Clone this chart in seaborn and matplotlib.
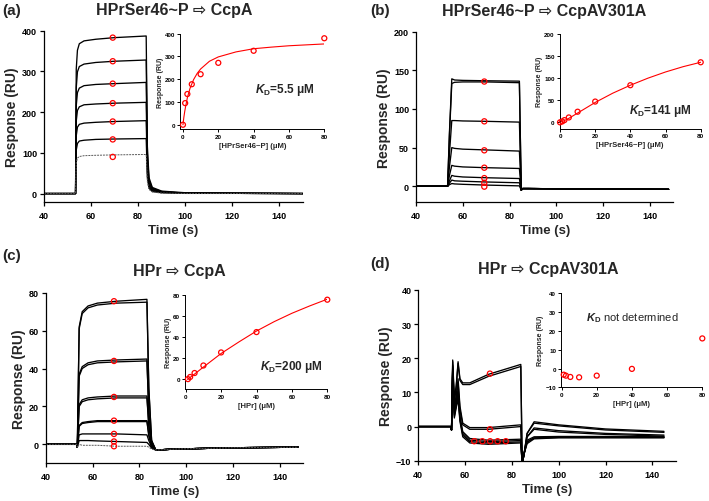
import matplotlib
matplotlib.use('Agg')
import matplotlib.pyplot as plt
import seaborn as sns

sns.set_style('ticks')
plt.rcParams['font.family'] = ['Liberation Sans', 'DejaVu Sans']
plt.rcParams['font.weight'] = 'bold'
plt.rcParams['mathtext.fontset'] = 'custom'
plt.rcParams['mathtext.it'] = 'Liberation Sans:bold:italic'
plt.rcParams['mathtext.rm'] = 'Liberation Sans:bold'
plt.rcParams['mathtext.bf'] = 'Liberation Sans:bold'

# ---- (a) HPrSer46~P -> CcpA ----
a_time = [40, 53.4, 53.7, 54.2, 55, 57, 62, 70, 83.4, 83.9, 84.6, 86, 90, 100, 150]
a_traces = [
    [0, 0, 306, 352, 368, 375, 379, 383, 387, 116, 39, 15, 6, 2, 0],
    [0, 0, 260, 299, 312, 318, 322, 325, 328, 98, 33, 13, 5, 1, 0],
    [0, 0, 216, 248, 259, 265, 268, 270, 273, 81, 27, 11, 4, 1, 0],
    [0, 0, 178, 204, 213, 218, 220, 222, 224, 67, 22, 9, 3, 1, 0],
    [0, 0, 142, 163, 170, 173, 175, 177, 179, 53, 18, 7, 3, 1, 0],
    [0, 0, 107, 123, 129, 131, 133, 134, 135, 40, 13, 5, 2, 1, 0],
    [0, 0, 76, 87, 91, 93, 94, 95, 96, 29, 10, 4, 1, 0, 0],
]
a_mark_t = [69.2] * 7
a_mark_r = [383, 325, 270, 222, 177, 133, 90]
a_conc = [0, 1.25, 2.5, 5, 10, 20, 40, 80]
a_resp = [0, 95, 135, 178, 222, 272, 325, 380]
a_fit_x = [0, 0.5, 1, 1.5, 2.5, 4, 6, 8, 10, 15, 20, 30, 40, 50, 60, 70, 80]
a_fit_y = [0, 32, 58, 80, 119, 160, 198, 225, 245, 279, 298, 320, 334, 341, 347, 351, 355]

# ---- (b) HPrSer46~P -> CcpAV301A ----
b_time = [40, 53.5, 54.3, 55.3, 56.5, 60, 70, 84.2, 85.0, 85.6, 88, 110, 148]
b_traces = [
    [0, 0, 70, 139, 137.5, 137, 136.5, 136, -5, -3, -3, -3.5, -4],
    [0, 0, 66, 133, 134.5, 135, 135, 134, -5, -3, -3, -3.5, -4],
    [0, 0, 42, 85, 85, 84.5, 84, 83, -5, -3, -3, -3.5, -4],
    [0, 0, 25, 50, 49, 48, 47, 45.5, -5, -3, -3, -3.5, -4],
    [0, 0, 14, 27, 26, 25, 24, 23, -5, -3, -3, -3.5, -4],
    [0, 0, 7, 14, 13, 12, 11, 10, -5, -3, -3, -3.5, -4],
    [0, 0, 4, 8, 7, 6.5, 5.5, 4.5, -5, -3, -3, -3.5, -4],
    [0, 0, 2, 3.5, 3, 2.5, 1.5, 0.5, -5, -3, -3, -3.5, -4],
]
b_mark_t = [69.2] * 7
b_mark_r = [135.5, 84, 46.5, 24, 10.5, 4.5, -0.5]
b_conc = [0, 1.25, 2.5, 5, 10, 20, 40, 80]
b_resp = [0, 2, 5, 11, 24, 47, 84, 136]
b_fit_x = [0, 2.5, 5, 10, 20, 30, 40, 50, 60, 70, 80]
b_fit_y = [0, 4, 9, 21, 45, 66, 84, 100, 114, 126, 136]

# ---- (c) HPr -> CcpA ----
c_time = [40, 53.1, 53.4, 54.2, 55.5, 58, 62, 70, 83.2, 84.0, 85.2, 87, 95, 120, 148]
c_traces = [
    [0, 0, -1.5, 62, 70, 73, 74.5, 75.5, 76.5, 30, 2, -3, -2.5, -1.8, -1.5],
    [0, 0, -1.5, 61, 69, 72, 73.5, 74.5, 75, 29, 2, -3, -2.5, -1.8, -1.5],
    [0, 0, -1.5, 37, 41, 43, 44, 44.5, 45, 17, 1, -3, -2.5, -1.8, -1.5],
    [0, 0, -1.5, 36, 40, 42, 43, 43.5, 44, 17, 1, -3, -2.5, -1.8, -1.5],
    [0, 0, -1.5, 21, 23.5, 24.5, 25, 25.5, 25.5, 10, 0, -3, -2.5, -1.8, -1.5],
    [0, 0, -1.5, 20, 22.5, 23.5, 24, 24.5, 24.5, 9.5, 0, -3, -2.5, -1.8, -1.5],
    [0, 0, -1.5, 10, 11.5, 12, 12.5, 12.5, 12.5, 5, -1, -3, -2.5, -1.8, -1.5],
    [0, 0, -1.5, 9.5, 11, 11.5, 12, 12, 12, 4.5, -1, -3, -2.5, -1.8, -1.5],
    [0, 0, -1.5, 5, 5.5, 5.5, 5.5, 5.5, 5, 2, -1.5, -3, -2.5, -1.8, -1.5],
    [0, 0, -1.5, 2, 2, 2, 1.8, 1.5, 1, 0, -2, -3, -2.5, -1.8, -1.5],
    [0, 0, -1.5, 0, -0.5, -0.5, -0.5, -1, -1, -1.5, -2.5, -3, -2.5, -1.8, -1.5],
]
c_mark_t = [69.1] * 7
c_mark_r = [75.5, 44, 25, 12.5, 5.5, 1.5, -1]
c_conc = [1.25, 2.5, 5, 10, 20, 40, 80]
c_resp = [-0.5, 1.5, 5.3, 12.5, 25, 44.5, 75.5]
c_fit_x = [1, 5, 10, 20, 30, 40, 50, 60, 70, 80]
c_fit_y = [-0.8, 4.3, 11, 24, 35, 45.5, 54.5, 62.5, 69.5, 76]

# ---- (d) HPr -> CcpAV301A ----
d_time = [40, 53.8, 54.2, 54.7, 55.4, 56.2, 57.0, 57.8, 59, 62, 70, 83.8, 84.4,
          85.2, 86.5, 89.5, 100, 120, 145]
d_traces = [
    [0, 0, -1, 19.5, 8, 12, 19, 14, 12.8, 12.8, 15.3, 18.2, -11, -8, -2, 1.4, 0.5, -0.7, -1.4],
    [0, 0, -1, 19, 7, 11.5, 18.5, 13.5, 12.3, 12.3, 14.7, 17.6, -11, -8, -2, 1.0, 0.2, -1, -1.7],
    [0, 0, -1, 18, 6, 9, 14, 6, 1, -0.3, -0.3, 0.5, -11, -8, -3, -0.4, -1.2, -2, -2.5],
    [0, 0, -1, 17.5, 5, 8.5, 13, 5, 0.5, -0.8, -0.8, 0, -11, -8, -3, -0.8, -1.6, -2.3, -2.8],
    [0, 0, -1, 17, 4, 7, 11, 3, -1.5, -3.5, -4, -3.7, -11, -8, -4, -3, -2.9, -2.9, -3],
    [0, 0, -1, 16.5, 3.5, 6.5, 10, 2.5, -2, -4, -4.4, -4.1, -11, -8, -4.5, -3.3, -3.1, -3.1, -3.1],
    [0, 0, -1, 16, 3, 6, 9, 2, -2.5, -4.4, -4.8, -4.5, -11, -8, -4.5, -3.4, -3.2, -3.2, -3.2],
    [0, 0, -1, 15.5, 2.5, 5.5, 8, 1.5, -3, -4.8, -5.2, -4.8, -11, -8, -5, -3.6, -3.3, -3.3, -3.3],
]
d_mark_t = [70.6, 70.6, 63.9, 67.4, 70.7, 73.9, 77.4]
d_mark_r = [15.5, -0.8, -4.3, -4.3, -4.3, -4.3, -4.3]
d_conc = [1.25, 2.5, 5, 10, 20, 40, 80]
d_resp = [-3.3, -3.8, -4.5, -4.7, -3.8, -0.2, 16]

W, H = 709, 502
fig = plt.figure(figsize=(W / 100, H / 100), dpi=100)


def px_axes(left, top, right, bottom):
    return fig.add_axes([left / W, 1 - bottom / H, (right - left) / W, (bottom - top) / H])


def style(ax, fs, lw, tl, xpad, ypad):
    sns.despine(ax=ax)
    for s in ['left', 'bottom']:
        ax.spines[s].set_linewidth(lw)
        ax.spines[s].set_color('black')
    ax.tick_params(labelsize=fs, width=lw, length=tl, colors='black')
    ax.tick_params(axis='x', pad=xpad)
    ax.tick_params(axis='y', pad=ypad)
    for lab in ax.get_xticklabels() + ax.get_yticklabels():
        lab.set_fontweight('bold')


def main_panel(box, time, traces, mt, mr, ylim, yticks, dashed_last=False):
    ax = px_axes(*box)
    for i, tr in enumerate(traces):
        last = dashed_last and i == len(traces) - 1
        sns.lineplot(x=time, y=tr, ax=ax, color='0.35' if last else 'black',
                     lw=0.7 if last else 0.95, linestyle=(0, (2, 1)) if last else '-',
                     estimator=None, sort=False)
    sns.scatterplot(x=mt, y=mr, ax=ax, marker='o', s=14, facecolor='none',
                    edgecolor='red', linewidth=0.9, zorder=5)
    ax.set_xlim(40, 150)
    ax.set_ylim(*ylim)
    ax.set_xticks([40, 60, 80, 100, 120, 140])
    ax.set_yticks(yticks)
    style(ax, 6.5, 0.9, 3, 3.5, 2)
    ax.set_xlabel('Time (s)', fontsize=9.5, fontweight='bold', labelpad=3)
    ax.set_ylabel('Response (RU)', fontsize=10, fontweight='bold', labelpad=2)
    return ax


def inset(box, conc, resp, fit_x, fit_y, xlim, ylim, yticks, xlabel):
    ax = px_axes(*box)
    if fit_x is not None:
        sns.lineplot(x=fit_x, y=fit_y, ax=ax, color='red', lw=0.8, estimator=None, sort=False)
    sns.scatterplot(x=conc, y=resp, ax=ax, marker='o', s=13, facecolor='none',
                    edgecolor='red', linewidth=0.9, zorder=5, clip_on=False)
    ax.set_xlim(*xlim)
    ax.set_ylim(*ylim)
    ax.set_xticks([0, 20, 40, 60, 80])
    ax.set_yticks(yticks)
    style(ax, 4.5, 0.7, 2, 1.5, 1.5)
    ax.set_xlabel(xlabel, fontsize=5.5, fontweight='bold', labelpad=2)
    ax.set_ylabel('Response (RU)', fontsize=5, fontweight='bold', labelpad=1)
    return ax


main_panel((44, 31.7, 303, 202.7), a_time, a_traces, a_mark_t, a_mark_r,
           (-20, 400), [0, 100, 200, 300, 400], dashed_last=True)
ia = inset((180.3, 34.7, 324.3, 130.3), a_conc, a_resp, a_fit_x, a_fit_y,
           (-1.5, 80), (-20, 400), [0, 100, 200, 300, 400], '[HPrSer46~P] (μM)')
ia.text(0.52, 0.42, r'$K_{\rm D}$=5.5 μM', transform=ia.transAxes, fontsize=8.5,
        fontweight='bold', va='center', ha='left')

main_panel((416, 32.7, 673.3, 202.7), b_time, b_traces, b_mark_t, b_mark_r,
           (-20, 200), [0, 50, 100, 150, 200])
ib = inset((559.5, 35, 700.7, 129.5), b_conc, b_resp, b_fit_x, b_fit_y,
           (-0.3, 80), (-14, 200), [0, 50, 100, 150, 200], '[HPrSer46~P] (μM)')
ib.text(0.49, 0.2, r'$K_{\rm D}$=141 μM', transform=ib.transAxes, fontsize=8.5,
        fontweight='bold', va='center', ha='left')

main_panel((46, 293.7, 303, 464.3), c_time, c_traces, c_mark_t, c_mark_r,
           (-10, 80), [0, 20, 40, 60, 80], dashed_last=True)
ic = inset((185, 296, 327.3, 390), c_conc, c_resp, c_fit_x, c_fit_y,
           (-0.4, 80), (-10, 80), [0, 20, 40, 60, 80], '[HPr] (μM)')
ic.text(0.53, 0.245, r'$K_{\rm D}$=200 μM', transform=ic.transAxes, fontsize=8.5,
        fontweight='bold', va='center', ha='left')

main_panel((418.3, 291, 675.7, 461.7), d_time, d_traces, d_mark_t, d_mark_r,
           (-10, 40), [-10, 0, 10, 20, 30, 40])
idd = inset((561, 294.3, 702.3, 388.3), d_conc, d_resp, None, None,
            (-0.3, 80), (-10, 40), [-10, 0, 10, 20, 30, 40], '[HPr] (μM)')
idd.text(0.175, 0.75, r'$K_{\rm D}$ not determined', transform=idd.transAxes,
         fontsize=8, fontweight='normal', va='center', ha='left')

titles = [('(a)', 'HPrSer46~P ⇨ CcpA', 2, 10.7, 173.7),
          ('(b)', 'HPrSer46~P ⇨ CcpAV301A', 370.7, 11.7, 544),
          ('(c)', 'HPr ⇨ CcpA', 2, 271.7, 179),
          ('(d)', 'HPr ⇨ CcpAV301A', 370.7, 270, 548)]
label_y = [10.5, 10.7, 256, 264.3]
for (lab, title, lx, ty, tx), ly in zip(titles, label_y):
    fig.text(lx / W, 1 - ly / H, lab, fontsize=11, fontweight='bold', ha='left', va='center')
    fig.text(tx / W, 1 - ty / H, title, fontsize=11.5, fontweight='bold', ha='center', va='center')

fig.savefig('out.png', dpi=100)
